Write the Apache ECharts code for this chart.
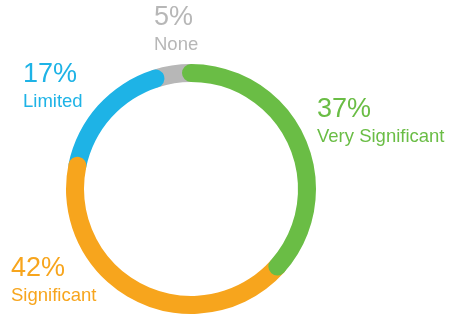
<!DOCTYPE html>
<html>
<head>
<meta charset="utf-8">
<title>Donut</title>
<script src="https://cdn.jsdelivr.net/npm/echarts@6/dist/echarts.min.js"></script>
<style>
  html, body, #container {
    width: 100%;
    height: 100%;
    margin: 0;
    padding: 0;
    background: #fff;
  }
</style>
</head>
<body>
<div id="container"></div>
<script>
var categories = ['Very Significant', 'Significant', 'Limited', 'None'];
var values = [37, 42, 17, 5];
var colors = ['#6abd45', '#f7a51d', '#1eb3e6', '#b7b7b7'];
// label blocks: left x, middle of the percent line
var labelPos = [[317, 110], [11, 269], [23, 75], [154, 18]];

var total = values.reduce(function (a, b) { return a + b; }, 0);
var chart = echarts.init(document.getElementById('container'));

var series = values.map(function (v, i) {
  return {
    type: 'bar',
    coordinateSystem: 'polar',
    stack: 'ring',
    roundCap: true,
    name: categories[i],
    data: [v],
    barWidth: '100%',
    z: 10 - i,
    silent: true,
    itemStyle: { color: colors[i] }
  };
});

var graphics = [];
categories.forEach(function (c, i) {
  var p = labelPos[i];
  graphics.push({
    type: 'text', x: p[0], y: p[1],
    style: { text: values[i] + '%', fill: colors[i], font: '27px "Liberation Sans", Arial, sans-serif', verticalAlign: 'middle' }
  });
  graphics.push({
    type: 'text', x: p[0], y: p[1] + 27,
    style: { text: c, fill: colors[i], font: '18.5px "Liberation Sans", Arial, sans-serif', verticalAlign: 'middle' }
  });
});

chart.setOption({
  animation: false,
  polar: { center: [191, 189], radius: [107, 125] },
  angleAxis: { type: 'value', max: total, startAngle: 90, clockwise: true, show: false },
  radiusAxis: { type: 'category', data: ['all'], show: false },
  graphic: graphics,
  series: series
});
</script>
</body>
</html>
